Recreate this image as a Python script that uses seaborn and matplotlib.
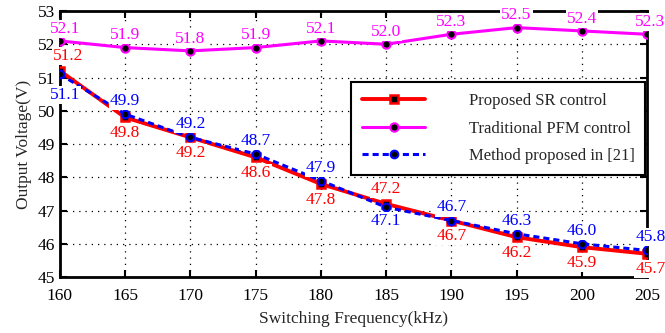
import matplotlib
matplotlib.use("Agg")
import matplotlib.pyplot as plt
import seaborn as sns
import pandas as pd

freq = [160, 165, 170, 175, 180, 185, 190, 195, 200, 205]
sr_control = [51.2, 49.8, 49.2, 48.6, 47.8, 47.2, 46.7, 46.2, 45.9, 45.7]
pfm_control = [52.1, 51.9, 51.8, 51.9, 52.1, 52.0, 52.3, 52.5, 52.4, 52.3]
method21 = [51.1, 49.9, 49.2, 48.7, 47.9, 47.1, 46.7, 46.3, 46.0, 45.8]

names = ["Proposed SR control", "Traditional PFM control", "Method proposed in [21]"]

sns.set_style("ticks")
plt.rcParams['font.family'] = ['Liberation Serif', 'DejaVu Serif']

fig, ax = plt.subplots(figsize=(6.65, 3.33), dpi=100)
fig.subplots_adjust(left=0.09, right=0.973, top=0.967, bottom=0.168)

df_sr = pd.DataFrame({"f": freq, "v": sr_control})
df_pfm = pd.DataFrame({"f": freq, "v": pfm_control})
df_m = pd.DataFrame({"f": freq, "v": method21})

sns.lineplot(data=df_sr, x="f", y="v", ax=ax, color="red", lw=2.8, marker="s",
             markersize=5.5, markerfacecolor="black", markeredgecolor="red",
             markeredgewidth=1.8, label=names[0], zorder=3)
sns.lineplot(data=df_pfm, x="f", y="v", ax=ax, color="#ff00ff", lw=2.2, marker="o",
             markersize=6, markerfacecolor="black", markeredgecolor="#ff00ff",
             markeredgewidth=1.5, label=names[1], zorder=3)
sns.lineplot(data=df_m, x="f", y="v", ax=ax, color="blue", lw=2.2, linestyle=(0, (2, 1.3)),
             marker="o", markersize=5.5, markerfacecolor="black", markeredgecolor="blue",
             markeredgewidth=1.5, label=names[2], zorder=4)

box = dict(facecolor="white", edgecolor="none", pad=0.8)


def put(x, y, color, above, dx=0, dy=6):
    ax.annotate(f"{y:.1f}", (x, y), xytext=(dx, dy if above else -dy),
                textcoords="offset points", ha="center",
                va="baseline" if above else "top", color=color, fontsize=12.5,
                bbox=box, zorder=6, annotation_clip=False)


def shift(i):
    if i == 0:
        return 4
    if i == len(freq) - 1:
        return 2.5
    return 0


for i, (x, y) in enumerate(zip(freq, pfm_control)):
    put(x, y, "#ff00ff", True, dx=shift(i) - (0.5 if i == 0 else 0), dy=6)

red_above = {0, 5}
for i, (x, y) in enumerate(zip(freq, sr_control)):
    if i in red_above:
        put(x, y, "red", True, dx=(6 if i == 0 else 0), dy=8)
    else:
        put(x, y, "red", False, dx=shift(i), dy=5.5)

blue_below = {0, 5}
for i, (x, y) in enumerate(zip(freq, method21)):
    if i in blue_below:
        put(x, y, "blue", False, dx=(3.5 if i == 0 else 0), dy=(9 if i == 0 else 4.5))
    else:
        put(x, y, "blue", True, dx=shift(i), dy=6.5)

ax.set_xlim(160, 205)
ax.set_ylim(45, 53)
ax.set_xticks(freq)
ax.set_yticks(range(45, 54))
ax.grid(True, linestyle=(0, (1, 4)), color="black", linewidth=0.9)
ax.tick_params(direction="in", top=True, right=True, labelsize=12.5, length=5,
               width=1.5, colors="black")
ax.tick_params(axis="x", pad=8)
for s in ax.spines.values():
    s.set_visible(True)
    s.set_linewidth(2)
    s.set_color("black")
ax.set_xlabel("Switching Frequency(kHz)", fontsize=12.5, labelpad=5)
ax.set_ylabel("Output Voltage(V)", fontsize=12.5, labelpad=4)

leg = ax.legend(loc="upper right", bbox_to_anchor=(0.997, 0.733), fontsize=12,
                frameon=True, fancybox=False, edgecolor="black", framealpha=1,
                handlelength=3.8, borderpad=0.65, labelspacing=0.7, handletextpad=2.6,
                borderaxespad=0)
leg.get_frame().set_linewidth(1.5)
leg.set_zorder(7)

fig.savefig("out.png", dpi=100)
